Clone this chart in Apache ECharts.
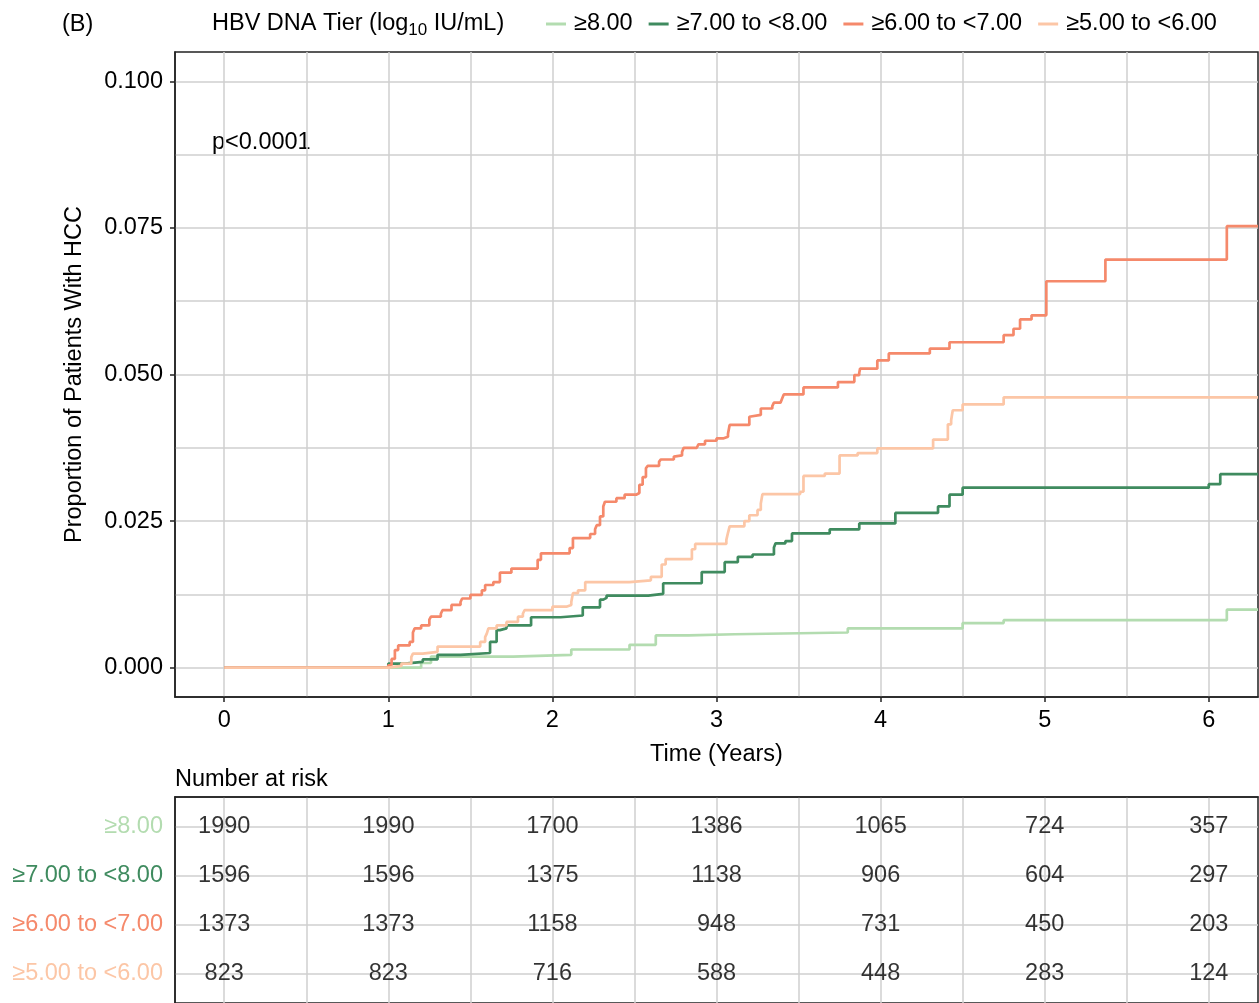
<!DOCTYPE html>
<html>
<head>
<meta charset="utf-8">
<script src="https://cdn.jsdelivr.net/npm/echarts@6/dist/echarts.min.js"></script>
<style>
html,body{margin:0;padding:0;background:#fff;}
#chart{width:1259px;height:1003px;}
</style>
</head>
<body>
<div id="chart"></div>
<script>
// ---------- data ----------
const groups = ['≥8.00', '≥7.00 to <8.00', '≥6.00 to <7.00', '≥5.00 to <6.00'];
const xTicks = [0, 1, 2, 3, 4, 5, 6];
const yTicks = [0, 0.025, 0.05, 0.075, 0.1];
const rowIds = [1, 2, 3, 4];

// cumulative proportion with HCC: [time (years), proportion]
const km8 = [[0,0],[1.2,0.0008],[1.26,0.0019],[1.76,0.0022],[2.115,0.0031],[2.47,0.0039],[2.63,0.0055],[2.83,0.0057],[3.11,0.006],[3.8,0.0067],[4.5,0.0076],[4.75,0.0081],[6.11,0.0099],[6.3,0.0099]];
const km7 = [[0,0],[1.0,0.0007],[1.10,0.001],[1.21,0.0014],[1.30,0.0022],[1.44,0.0025],[1.62,0.0044],[1.66,0.0064],[1.68,0.0067],[1.72,0.0072],[1.87,0.0086],[2.05,0.0089],[2.185,0.0103],[2.29,0.0116],[2.31,0.0119],[2.33,0.0123],[2.584,0.0126],[2.675,0.0144],[2.91,0.0163],[3.05,0.018],[3.13,0.0189],[3.22,0.0193],[3.35,0.0205],[3.36,0.0212],[3.42,0.0216],[3.46,0.0229],[3.69,0.0236],[3.87,0.0246],[4.09,0.0264],[4.35,0.0275],[4.42,0.0295],[4.5,0.0307],[6.0,0.0313],[6.07,0.033],[6.3,0.033]];
const km6 = [[0,0],[1.0,0.0004],[1.02,0.0015],[1.04,0.003],[1.06,0.0038],[1.13,0.0044],[1.15,0.006],[1.16,0.0067],[1.2,0.0072],[1.25,0.0082],[1.26,0.0087],[1.32,0.0092],[1.33,0.0098],[1.385,0.0107],[1.44,0.0112],[1.45,0.0118],[1.5,0.0124],[1.57,0.0132],[1.59,0.0141],[1.64,0.0146],[1.68,0.0162],[1.75,0.0169],[1.91,0.0184],[1.93,0.0195],[2.105,0.0204],[2.125,0.0221],[2.23,0.0228],[2.26,0.0236],[2.27,0.0243],[2.29,0.0258],[2.31,0.0275],[2.32,0.0283],[2.39,0.0289],[2.44,0.0295],[2.51,0.0298],[2.53,0.0312],[2.55,0.0325],[2.57,0.034],[2.58,0.0344],[2.65,0.0351],[2.66,0.0355],[2.74,0.036],[2.75,0.0362],[2.79,0.0368],[2.80,0.0375],[2.88,0.0377],[2.89,0.0381],[2.93,0.0387],[3.0,0.0391],[3.04,0.0394],[3.07,0.0399],[3.08,0.0414],[3.2,0.0428],[3.21,0.0431],[3.27,0.0442],[3.34,0.0446],[3.35,0.0452],[3.39,0.0455],[3.40,0.0459],[3.41,0.0466],[3.53,0.0478],[3.74,0.0487],[3.84,0.0499],[3.87,0.0503],[3.875,0.051],[3.98,0.0524],[4.05,0.0536],[4.30,0.0544],[4.42,0.0555],[4.75,0.0567],[4.81,0.0578],[4.85,0.0594],[4.92,0.0601],[5.01,0.0659],[5.37,0.0696],[6.11,0.0753],[6.3,0.0753]];
const km5 = [[0,0],[1.0,0.0003],[1.08,0.0007],[1.14,0.0018],[1.15,0.0024],[1.21,0.0027],[1.30,0.0036],[1.56,0.0044],[1.59,0.0052],[1.6,0.0058],[1.61,0.0067],[1.66,0.0072],[1.72,0.0078],[1.79,0.0087],[1.82,0.0092],[1.83,0.0098],[2.0,0.0104],[2.085,0.0107],[2.115,0.0112],[2.125,0.0127],[2.156,0.0132],[2.2,0.0146],[2.47,0.0149],[2.60,0.0155],[2.666,0.0176],[2.69,0.0185],[2.85,0.0202],[2.87,0.0211],[3.06,0.0218],[3.07,0.023],[3.08,0.0241],[3.17,0.025],[3.2,0.026],[3.25,0.0269],[3.27,0.028],[3.28,0.0296],[3.51,0.03],[3.53,0.0327],[3.66,0.0331],[3.75,0.0362],[3.86,0.0366],[3.98,0.0374],[4.32,0.0389],[4.41,0.0415],[4.43,0.0422],[4.435,0.0431],[4.44,0.0439],[4.5,0.0449],[4.75,0.0461],[6.3,0.0461]];

// number at risk at years 0..6
const risk8 = [1990, 1990, 1700, 1386, 1065, 724, 357];
const risk7 = [1596, 1596, 1375, 1138, 906, 604, 297];
const risk6 = [1373, 1373, 1158, 948, 731, 450, 203];
const risk5 = [823, 823, 716, 588, 448, 283, 124];

// ---------- styles ----------
const colors = ['#b3dcb0', '#3f8b5f', '#f5896b', '#fcc6a6'];
const FONT = '"Liberation Sans", Arial, Helvetica, sans-serif';
const FS = 23.5;
const gridCol = '#cfcfcf';
const frameCol = '#222222';

const kmSets = [km8, km7, km6, km5];
const riskSets = [risk8, risk7, risk6, risk5];

const tableData = [];
riskSets.forEach((arr, r) => {
  arr.forEach((v, i) => tableData.push([xTicks[i], rowIds[r], v]));
});

const chart = echarts.init(document.getElementById('chart'), null, {renderer: 'canvas'});

const frameLine = {show: true, onZero: false, lineStyle: {color: frameCol, width: 1.5}};

const option = {
  animation: false,
  backgroundColor: '#ffffff',
  textStyle: {fontFamily: FONT},
  grid: [
    {left: 175, right: 1, top: 52, height: 645, show: true, borderColor: frameCol, borderWidth: 1.5, containLabel: false},
    {left: 175, right: 1, top: 797, height: 210, show: true, borderColor: frameCol, borderWidth: 1.5, containLabel: false}
  ],
  legend: {
    data: groups,
    left: 541,
    top: 7,
    icon: 'rect',
    itemWidth: 20,
    itemHeight: 3,
    itemGap: 16,
    textStyle: {fontSize: FS, color: '#000', fontFamily: FONT, padding: [0, 0, 0, 3]},
    selectedMode: false
  },
  xAxis: [
    {
      gridIndex: 0, type: 'value', min: -0.3, max: 6.3, minInterval: 1, maxInterval: 1,
      name: 'Time (Years)', nameLocation: 'middle', nameGap: 46,
      nameTextStyle: {fontSize: FS, color: '#000', fontFamily: FONT},
      axisLine: frameLine,
      axisTick: {show: true, length: 5, customValues: xTicks, lineStyle: {color: frameCol, width: 1.5}},
      axisLabel: {show: true, customValues: xTicks, fontSize: FS, color: '#000', margin: 12, fontFamily: FONT,
        formatter: v => (Math.abs(v - Math.round(v)) < 1e-9 ? String(Math.round(v)) : '')},
      splitLine: {show: true, lineStyle: {color: gridCol, width: 1.5}},
      minorTick: {show: false, splitNumber: 2},
      minorSplitLine: {show: true, lineStyle: {color: gridCol, width: 1.5}}
    },
    {
      gridIndex: 1, type: 'value', position: 'top', min: -0.3, max: 6.3, minInterval: 1, maxInterval: 1,
      axisLine: frameLine,
      axisTick: {show: false, customValues: xTicks},
      axisLabel: {show: false, customValues: xTicks},
      splitLine: {show: true, lineStyle: {color: gridCol, width: 1.5}},
      minorTick: {show: false, splitNumber: 2},
      minorSplitLine: {show: true, lineStyle: {color: gridCol, width: 1.5}}
    }
  ],
  yAxis: [
    {
      gridIndex: 0, type: 'value', min: -0.005, max: 0.105, minInterval: 0.025, maxInterval: 0.025,
      name: 'Proportion of Patients With HCC', nameLocation: 'middle', nameGap: 88,
      nameTextStyle: {fontSize: FS, color: '#000', fontFamily: FONT},
      axisLine: frameLine,
      axisTick: {show: true, length: 5, customValues: yTicks, lineStyle: {color: frameCol, width: 1.5}},
      axisLabel: {show: true, customValues: yTicks, fontSize: FS, color: '#000', margin: 12, fontFamily: FONT,
        formatter: v => (v < -1e-9 || v > 0.1000001) ? '' : v.toFixed(3)},
      splitLine: {show: true, lineStyle: {color: gridCol, width: 1.5}},
      minorTick: {show: false, splitNumber: 2},
      minorSplitLine: {show: true, lineStyle: {color: gridCol, width: 1.5}}
    },
    {
      gridIndex: 1, type: 'value', min: 0.4, max: 4.6, inverse: true, minInterval: 1, maxInterval: 1,
      axisLine: frameLine,
      axisTick: {show: false, customValues: rowIds},
      axisLabel: {show: true, customValues: rowIds, fontSize: FS, margin: 12, fontFamily: FONT,
        formatter: v => { const i = Math.round(v) - 1; return (Math.abs(v - Math.round(v)) < 1e-9 && i >= 0 && i < groups.length) ? groups[i] : ''; },
        color: (v) => { const i = Math.round(v) - 1; return colors[Math.max(0, Math.min(3, i))]; }},
      splitLine: {show: true, lineStyle: {color: gridCol, width: 1.5}}
    }
  ],
  series: groups.map((g, k) => ({
    name: g,
    type: 'line',
    xAxisIndex: 0, yAxisIndex: 0,
    step: 'end',
    data: kmSets[k],
    showSymbol: false,
    symbol: 'none',
    clip: true,
    color: colors[k],
    lineStyle: {color: colors[k], width: 2.7},
    emphasis: {disabled: true},
    z: 3 + k
  })).concat([{
    name: 'risk',
    type: 'scatter',
    xAxisIndex: 1, yAxisIndex: 1,
    data: tableData,
    symbol: 'circle',
    symbolSize: 1,
    itemStyle: {color: 'rgba(0,0,0,0)'},
    label: {show: true, position: 'inside', formatter: p => String(p.value[2]), fontSize: FS, color: '#000', fontFamily: FONT},
    emphasis: {disabled: true},
    silent: true,
    z: 5
  }]),
  graphic: [
    {type: 'text', left: 62, top: 13, style: {text: '(B)', fontSize: FS, fill: '#000', fontFamily: FONT}},
    {type: 'text', left: 212, top: 12, style: {
      text: 'HBV DNA Tier (log{sub|10} IU/mL)', fontSize: FS, fill: '#000', fontFamily: FONT,
      rich: {sub: {fontSize: 17, fill: '#000', fontFamily: FONT, padding: [13, 0, 0, 0]}}
    }},
    {type: 'text', left: 212, top: 131, style: {text: 'p<0.0001', fontSize: FS, fill: '#000', fontFamily: FONT}},
    {type: 'text', left: 175, top: 768, style: {text: 'Number at risk', fontSize: FS, fill: '#000', fontFamily: FONT}}
  ]
};
chart.setOption(option);
</script>
</body>
</html>
